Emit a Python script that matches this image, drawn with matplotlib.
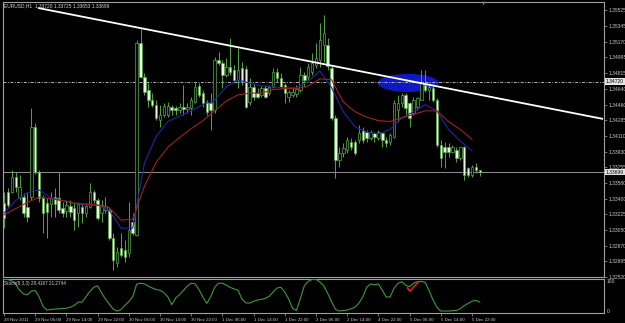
import numpy as np
import matplotlib.pyplot as plt
from matplotlib.patches import Rectangle, Ellipse

# EURUSD H1, one entry per bar from 28 Nov 22:00 to 5 Dec 23:00
opens = [
    1.3335, 1.3348, 1.3348, 1.3365, 1.3342, 1.3342, 1.3331, 1.3342, 1.3421, 1.3370,
    1.3341, 1.3335, 1.3334, 1.3342, 1.3341, 1.3330, 1.3326, 1.3332, 1.3330, 1.3324,
    1.3331, 1.3324, 1.3331, 1.3348, 1.3339, 1.3324, 1.3327, 1.3327, 1.3296, 1.3268,
    1.3285, 1.3282, 1.3279, 1.3314, 1.3299, 1.3515, 1.3477, 1.3463, 1.3451, 1.3446,
    1.3429, 1.3434, 1.3434, 1.3443, 1.3442, 1.3440, 1.3443, 1.3441, 1.3442, 1.3449,
    1.3467, 1.3459, 1.3449, 1.3448, 1.3440, 1.3496, 1.3493, 1.3479, 1.3488, 1.3485,
    1.3474, 1.3487, 1.3486, 1.3449, 1.3466, 1.3459, 1.3457, 1.3465, 1.3459, 1.3466,
    1.3483, 1.3476, 1.3468, 1.3455, 1.3457, 1.3458, 1.3463, 1.3479, 1.3477, 1.3483,
    1.3491, 1.3496, 1.3513, 1.3513, 1.3487, 1.3431, 1.3384, 1.3392, 1.3395, 1.3404,
    1.3404, 1.3406, 1.3418, 1.3415, 1.3409, 1.3414, 1.3409, 1.3414, 1.3406, 1.3404,
    1.3410, 1.3440, 1.3448, 1.3457, 1.3448, 1.3437, 1.3443, 1.3451, 1.3468, 1.3463,
    1.3465, 1.3451, 1.3401, 1.3398, 1.3398, 1.3393, 1.3395, 1.3386, 1.3398, 1.3375,
    1.3367, 1.3376, 1.33720]
highs = [
    1.3348, 1.3352, 1.3372, 1.3370, 1.3367, 1.3347, 1.3347, 1.3442, 1.3425, 1.3372,
    1.3344, 1.3341, 1.3348, 1.3352, 1.3370, 1.3336, 1.3339, 1.3339, 1.3336, 1.3336,
    1.3335, 1.3335, 1.3358, 1.3350, 1.3341, 1.3339, 1.3342, 1.3330, 1.3302, 1.3286,
    1.3302, 1.3294, 1.3336, 1.3324, 1.3519, 1.3532, 1.3482, 1.3470, 1.3459, 1.3451,
    1.3446, 1.3448, 1.3449, 1.3446, 1.3445, 1.3448, 1.3468, 1.3448, 1.3455, 1.3472,
    1.3470, 1.3463, 1.3451, 1.3459, 1.3500, 1.3505, 1.3496, 1.3498, 1.3521, 1.3491,
    1.3510, 1.3494, 1.3489, 1.3476, 1.3470, 1.3465, 1.3467, 1.3468, 1.3468, 1.3487,
    1.3487, 1.3482, 1.3470, 1.3463, 1.3465, 1.3468, 1.3488, 1.3483, 1.3493, 1.3504,
    1.3515, 1.3538, 1.3547, 1.3521, 1.3489, 1.3434, 1.3398, 1.3403, 1.3410, 1.3409,
    1.3406, 1.3423, 1.3421, 1.3418, 1.3418, 1.3415, 1.3418, 1.3415, 1.3410, 1.3414,
    1.3451, 1.3457, 1.3459, 1.3459, 1.3449, 1.3455, 1.3455, 1.3485, 1.3485, 1.3470,
    1.3468, 1.3454, 1.3406, 1.3404, 1.3403, 1.3401, 1.3398, 1.3398, 1.3399, 1.3376,
    1.3378, 1.3380, 1.33725]
lows = [
    1.3307, 1.3331, 1.3347, 1.3348, 1.3339, 1.3320, 1.3314, 1.3339, 1.3368, 1.3336,
    1.3302, 1.3296, 1.3320, 1.3320, 1.3324, 1.3320, 1.3320, 1.3320, 1.3305, 1.3308,
    1.3313, 1.3320, 1.3330, 1.3335, 1.3316, 1.3314, 1.3324, 1.3294, 1.3260, 1.3263,
    1.3275, 1.3269, 1.3275, 1.3299, 1.3298, 1.3476, 1.3457, 1.3443, 1.3443, 1.3429,
    1.3421, 1.3432, 1.3432, 1.3434, 1.3434, 1.3437, 1.3434, 1.3437, 1.3434, 1.3448,
    1.3455, 1.3443, 1.3434, 1.3418, 1.3437, 1.3491, 1.3465, 1.3477, 1.3479, 1.3470,
    1.3465, 1.3468, 1.3442, 1.3446, 1.3451, 1.3454, 1.3455, 1.3454, 1.3457, 1.3465,
    1.3472, 1.3465, 1.3448, 1.3449, 1.3455, 1.3455, 1.3460, 1.3466, 1.3474, 1.3479,
    1.3487, 1.3488, 1.3494, 1.3485, 1.3429, 1.3363, 1.3376, 1.3387, 1.3392, 1.3395,
    1.3389, 1.3403, 1.3403, 1.3404, 1.3406, 1.3404, 1.3406, 1.3398, 1.3398, 1.3401,
    1.3409, 1.3427, 1.3443, 1.3434, 1.3421, 1.3434, 1.3440, 1.3451, 1.3460, 1.3451,
    1.3449, 1.3398, 1.3376, 1.3375, 1.3387, 1.3392, 1.3381, 1.3384, 1.3361, 1.3365,
    1.3365, 1.3369, 1.33653]
closes = [
    1.3318, 1.3333, 1.3365, 1.3353, 1.3353, 1.3324, 1.3320, 1.3421, 1.3370, 1.3341,
    1.3324, 1.3325, 1.3341, 1.3334, 1.3327, 1.3324, 1.3333, 1.3325, 1.3316, 1.3334,
    1.3324, 1.3332, 1.3348, 1.3339, 1.3318, 1.3333, 1.3332, 1.3296, 1.3271, 1.3280,
    1.3277, 1.3275, 1.3305, 1.3302, 1.3515, 1.3477, 1.3460, 1.3451, 1.3446, 1.3431,
    1.3434, 1.3445, 1.3445, 1.3440, 1.3440, 1.3443, 1.3441, 1.3443, 1.3451, 1.3466,
    1.3457, 1.3448, 1.3438, 1.3440, 1.3496, 1.3493, 1.3479, 1.3488, 1.3483, 1.3474,
    1.3485, 1.3472, 1.3443, 1.3466, 1.3455, 1.3455, 1.3465, 1.3455, 1.3466, 1.3483,
    1.3476, 1.3466, 1.3459, 1.3460, 1.3460, 1.3464, 1.3479, 1.3474, 1.3488, 1.3493,
    1.3498, 1.3519, 1.3527, 1.3489, 1.3431, 1.3384, 1.3392, 1.3397, 1.3406, 1.3398,
    1.3392, 1.3414, 1.3406, 1.3409, 1.3415, 1.3410, 1.3415, 1.3406, 1.3403, 1.3412,
    1.3448, 1.3448, 1.3457, 1.3442, 1.3431, 1.3451, 1.3454, 1.3470, 1.3463, 1.3466,
    1.3451, 1.3401, 1.3386, 1.3393, 1.3393, 1.3398, 1.3386, 1.3398, 1.3367, 1.3367,
    1.3376, 1.3372, 1.33699]

# moving averages
ma_step = 3
ma_blue = [
    1.3324, 1.3338, 1.3347, 1.3350, 1.3341, 1.3338, 1.3335, 1.3333, 1.3333, 1.3327,
    1.3307, 1.3307, 1.3380, 1.3410, 1.3427, 1.3433, 1.3439, 1.3446, 1.3451, 1.3466,
    1.3474, 1.3470, 1.3467, 1.3466, 1.3465, 1.3465, 1.3472, 1.3484, 1.3465, 1.3438,
    1.3421, 1.3415, 1.3413, 1.3418, 1.3431, 1.3438, 1.3446, 1.3439, 1.3418, 1.3405,
    1.3394]
ma_red = [
    1.3322, 1.3329, 1.3336, 1.3342, 1.3340, 1.3338, 1.3335, 1.3334, 1.3333, 1.3330,
    1.3316, 1.3317, 1.3354, 1.3381, 1.3398, 1.3409, 1.3419, 1.3428, 1.3439, 1.3450,
    1.3457, 1.3459, 1.3459, 1.3463, 1.3464, 1.3464, 1.3467, 1.3475, 1.3474, 1.3449,
    1.3438, 1.3432, 1.3428, 1.3427, 1.3431, 1.3435, 1.3439, 1.3439, 1.3427, 1.3418,
    1.3407]

# Stochastic(8,3,3) main line, one per bar
stoch = [
    100, 100, 95, 85, 66, 54, 52, 63, 65, 45,
    15, 3, 5, 6, 7, 8, 9, 12, 18, 28,
    28, 45, 62, 75, 80, 58, 38, 22, 6, 0,
    5, 18, 30, 45, 85, 88, 86, 79, 73, 68,
    66, 58, 45, 20, 41, 52, 65, 79, 88, 86,
    68, 44, 24, 45, 75, 88, 88, 82, 75, 70,
    66, 38, 26, 25, 31, 35, 37, 40, 47, 60,
    73, 75, 60, 38, 8, 2, 40, 80, 94, 100,
    100, 92, 80, 56, 30, 5, 0, 2, 3, 7,
    12, 25, 45, 75, 86, 83, 86, 66, 44, 45,
    72, 87, 93, 82, 77, 88, 93, 94, 91, 65,
    35, 12, 0, 0, 0, 1, 2, 7, 17, 24,
    31, 34, 28]

time_labels = ['28 Nov 2011', '29 Nov 06:00', '29 Nov 14:00', '29 Nov 22:00',
               '30 Nov 06:00', '30 Nov 14:00', '30 Nov 22:00', '1 Dec 06:00',
               '1 Dec 14:00', '1 Dec 22:00', '2 Dec 06:00', '2 Dec 14:00',
               '4 Dec 22:00', '5 Dec 06:00', '5 Dec 14:00', '5 Dec 22:00']
time_label_step = 8

price_ticks = [1.35525, 1.35345, 1.35170, 1.34995, 1.34815, 1.34640, 1.34460,
               1.34285, 1.34110, 1.33930, 1.33755, 1.33580, 1.33400, 1.33225,
               1.33050, 1.32870, 1.32695, 1.32520]
hline_price = 1.34720
bid_price = 1.33699

# objects drawn on the chart (bar index, price)
trend_start = (8.7, 1.35548)
trend_end = (153.6, 1.34299)
ellipse_center = (103.6, 1.34704)
ellipse_size = (15.6, 0.00203)
check_mark = ([103.4, 104.1, 106.2], [74, 63, 92])

WICK = '#55a545'
BEAR = '#e6f8dc'
BULL = '#050f05'
TXT = '#c8c8c8'
FRAME = '#a0a0a0'
FONT = 'Liberation Sans'

W, H = 625, 323
fig = plt.figure(figsize=(W / 100, H / 100), dpi=100, facecolor='black')


def frame(x0, y0, x1, y1):
    return [x0 / W, 1 - y1 / H, (x1 - x0) / W, (y1 - y0) / H]


ax = fig.add_axes(frame(3, 2, 604, 277))
ax2 = fig.add_axes(frame(3, 278.5, 604, 313))
xlim = (-0.26, 153.85)

for a in (ax, ax2):
    a.set_facecolor('black')
    a.set_xlim(*xlim)
    for s in a.spines.values():
        s.set_color(FRAME)
        s.set_linewidth(0.8)

# candles
o, h, l, c = map(np.array, (opens, highs, lows, closes))
x = np.arange(len(o))
bw = 0.62
ax.vlines(x, l, h, color=WICK, lw=0.7, zorder=3)
for i in x:
    lo, hi = min(o[i], c[i]), max(o[i], c[i])
    ax.add_patch(Rectangle((i - bw / 2, lo), bw, max(hi - lo, 0.00003),
                           facecolor=BULL if c[i] > o[i] else BEAR,
                           edgecolor=WICK, lw=0.5, zorder=3.5))

ma_x = np.arange(len(ma_blue)) * ma_step
ax.plot(ma_x, ma_blue, color='#2424a8', lw=0.8, zorder=4)
ax.plot(ma_x, ma_red, color='#a32020', lw=0.8, zorder=4)

ax.add_patch(Ellipse(ellipse_center, *ellipse_size, facecolor='#1018c4',
                     edgecolor='none', zorder=1))
ax.axhline(hline_price, color='#b4b4b4', lw=0.7, dashes=(3, 1.5, 1, 1.5), zorder=2)
ax.axhline(bid_price, color='#909090', lw=0.7, zorder=2)
ax.plot([trend_start[0], trend_end[0]], [trend_start[1], trend_end[1]],
        color='white', lw=1.3, zorder=5, solid_capstyle='butt')

ax.set_ylim(1.32520, 1.35615)
ax.set_xticks([])
ax.yaxis.tick_right()
ax.set_yticks(price_ticks)
ax.set_yticklabels([f'{p:.5f}' for p in price_ticks], fontfamily=FONT)
ax.tick_params(axis='y', length=2, width=0.5, color=FRAME, labelcolor=TXT,
               labelsize=3.6, pad=1)

ytrans = ax.get_yaxis_transform()
for p in (hline_price, bid_price):
    ax.text(1.003, p, f'{p:.5f}', transform=ytrans, fontsize=3.6, family=FONT,
            color='black', va='center', ha='left', clip_on=False, zorder=10,
            bbox=dict(boxstyle='square,pad=0.15', fc='#e4e4e4', ec='none'))

ax.plot(122.8, 1.35605, marker='v', ms=2.5, color='#808080', mec='none',
        clip_on=False, zorder=6)
ax.text(0.002, 0.9865, 'EURUSD,H1  1.33720 1.33725 1.33653 1.33699',
        transform=ax.transAxes, fontsize=3.5, family=FONT, color='#d8d8d8',
        va='center', ha='left', zorder=10)

# stochastic pane
ax2.plot(np.arange(len(stoch)), stoch, color='#3d9b35', lw=0.8, zorder=3)
ax2.plot(*check_mark, color='#e02020', lw=1.2, zorder=5, solid_capstyle='round')
ax2.set_ylim(-6.25, 103.1)
ax2.yaxis.tick_right()
ax2.set_yticks([0, 100])
ax2.set_yticklabels(['0', '100'], fontfamily=FONT)
ax2.tick_params(axis='y', length=0, labelcolor=TXT, labelsize=3.6, pad=2)
ax2.get_yticklabels()[1].set_va('top')
ax2.text(0.002, 0.86, 'Stoch(8,3,3) 28.4167 21.2744', transform=ax2.transAxes,
         fontsize=3.3, family=FONT, color='#d0d0d0', va='center', ha='left')

ax2.set_xticks(np.arange(len(time_labels)) * time_label_step)
ax2.set_xticklabels(time_labels, fontfamily=FONT)
ax2.tick_params(axis='x', length=2.5, width=0.5, color=FRAME, labelcolor=TXT,
                labelsize=3.2, pad=0.8)
for lbl in ax2.get_xticklabels():
    lbl.set_ha('left')

fig.savefig('out.png', dpi=100, facecolor='black')
